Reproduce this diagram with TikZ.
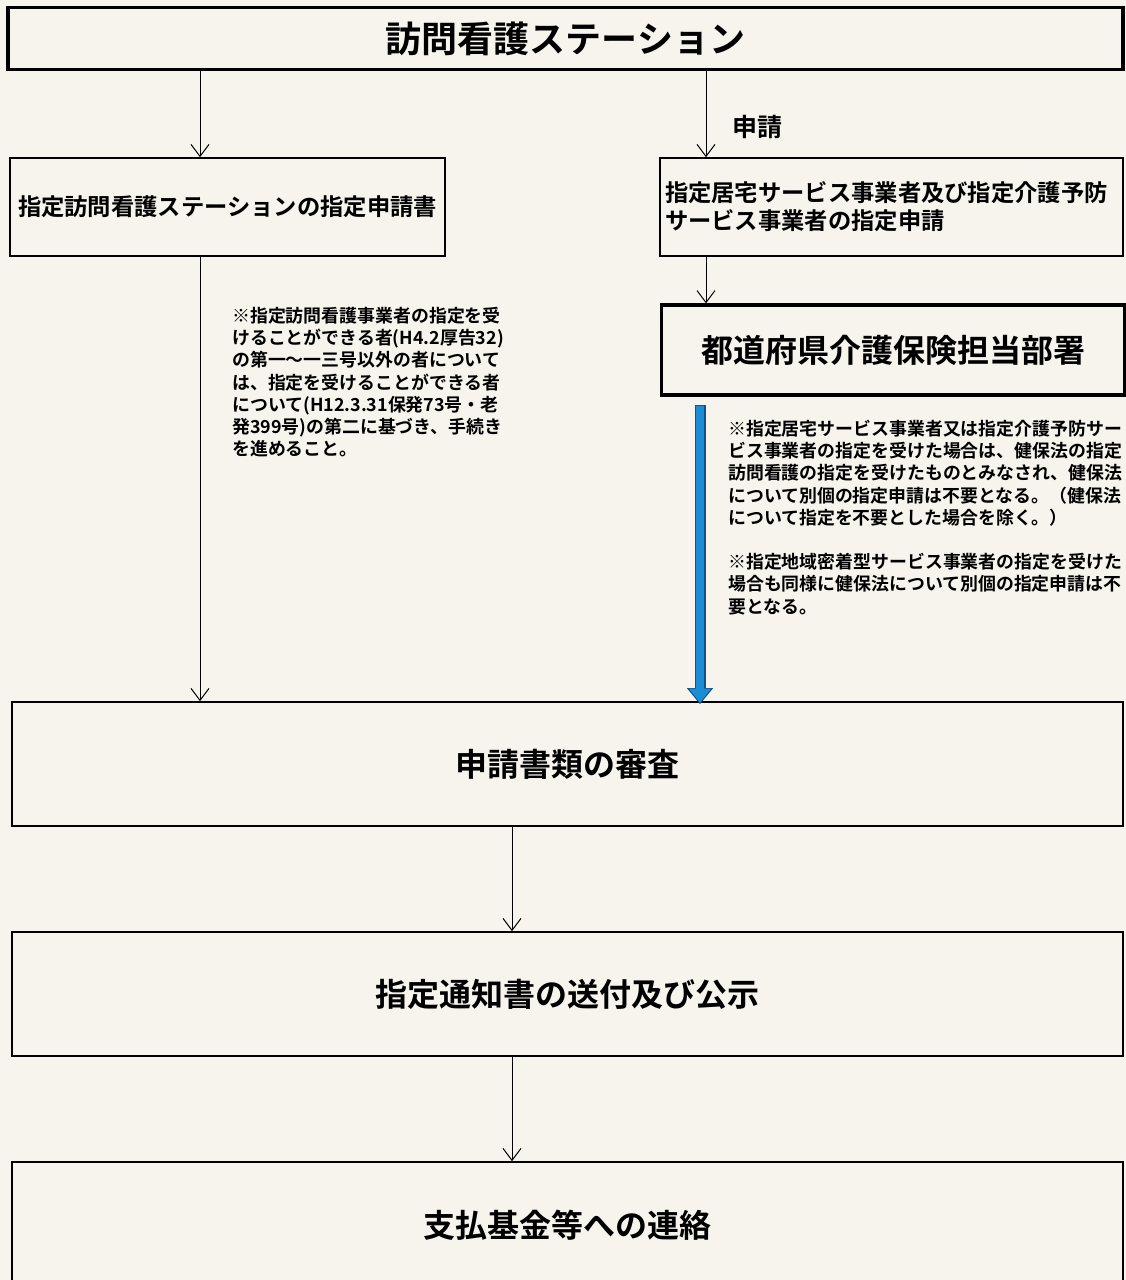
\documentclass[tikz,border=0pt]{standalone}
\usepackage{fontspec}
\setmainfont{Noto Sans CJK JP}[BoldFont={Noto Sans CJK JP Bold}]
\usetikzlibrary{arrows.meta}
\definecolor{paper}{RGB}{246,244,237}
\definecolor{arrowblue}{RGB}{28,140,212}
\definecolor{arrowedge}{RGB}{20,80,140}
\begin{document}
\begin{tikzpicture}[x=1pt,y=-1pt,
  box/.style={draw=black,line width=1.6pt,rectangle,inner sep=0pt,font=\bfseries},
  thickbox/.style={box,line width=3.2pt},
  arr/.style={line width=1pt,-{Straight Barb[length=12pt,width=18pt,line width=1pt]}},
  note/.style={font=\bfseries\fontsize{17.9}{22.2}\selectfont,align=left,inner sep=0pt,anchor=north west},
  midtext/.style={font=\bfseries\fontsize{23.3}{28}\selectfont},
  bigtext/.style={font=\bfseries\fontsize{32}{38}\selectfont}]
\useasboundingbox (0,0) rectangle (1126,1280);
\fill[paper] (0,0) rectangle (1126,1280);
\clip (0,0) rectangle (1126,1280);

\node[thickbox,minimum width=1115,minimum height=62,font=\bfseries\fontsize{36}{40}\selectfont] (top) at (565.5,38.5)
  {訪問看護ステーション};

\node[box,midtext,minimum width=435,minimum height=98] (left) at (227.5,207)
  {指定訪問看護ステーションの指定申請書};

\node[box,midtext,minimum width=463,minimum height=98,inner xsep=5pt,text width=453,align=left] (right) at (891.5,207)
  {指定居宅サービス事業者及び指定介護予防\\サービス事業者の指定申請};

\node[thickbox,bigtext,minimum width=463,minimum height=90] (pref) at (893,350)
  {都道府県介護保険担当部署};

\node[note] (noteL) at (232,307) {※指定訪問看護事業者の指定を受\\けることができる者(H4.2厚告32)\\の第一～一三号以外の者について\\は、指定を受けることができる者\\について(H12.3.31保発73号・老\\発399号)の第二に基づき、手続き\\を進めること。};

\node[note] (noteR) at (728,420) {※指定居宅サービス事業者又は指定介護予防サー\\ビス事業者の指定を受けた場合は、健保法の指定\\訪問看護の指定を受けたものとみなされ、健保法\\について別個の指定申請は不要となる。（健保法\\について指定を不要とした場合を除く。）\\[22.2pt]※指定地域密着型サービス事業者の指定を受けた\\場合も同様に健保法について別個の指定申請は不\\要となる。};

\node[box,bigtext,minimum width=1111,minimum height=124] (review) at (567.5,764)
  {申請書類の審査};
\node[box,bigtext,minimum width=1111,minimum height=124] (notice) at (567.5,994)
  {指定通知書の送付及び公示};
\node[box,bigtext,minimum width=1111,minimum height=126] (contact) at (567.5,1225)
  {支払基金等への連絡};

\node[font=\bfseries\fontsize{25}{28}\selectfont] (apply) at (757,127) {申請};

\coordinate (xL) at (200,0);
\coordinate (xR) at (706,0);
\coordinate (xC) at (512,0);
\coordinate (xB) at (700,0);

\draw[arr] (xL |- top.south) -- (xL |- left.north);
\draw[arr] (xR |- top.south) -- (xR |- right.north);
\draw[arr] (xR |- right.south) -- (xR |- pref.north);
\draw[arr] (xL |- left.south) -- (xL |- review.north);
\draw[arr] (xC |- review.south) -- (xC |- notice.north);
\draw[arr] (xC |- notice.south) -- (xC |- contact.north);

\coordinate (bstart) at ([yshift=-8pt]xB |- pref.south);
\coordinate (bend) at ([yshift=-3pt]xB |- review.north);
\draw[arrowedge,line width=11pt,-{Triangle[length=16pt,width=25pt]}] (bstart) -- (bend);
\draw[arrowblue,line width=8.5pt,shorten >=1.5pt,-{Triangle[length=14pt,width=21pt]}] ([yshift=-1.2pt]bstart) -- (bend);
\end{tikzpicture}
\end{document}
